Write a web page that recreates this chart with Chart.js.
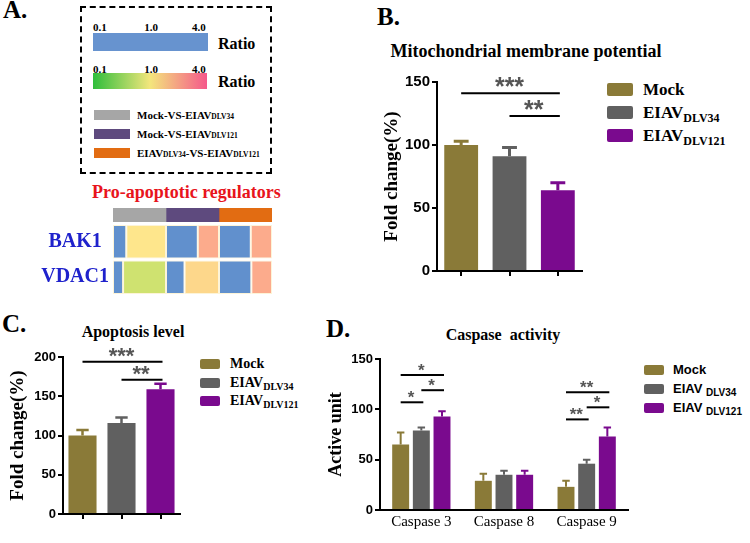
<!DOCTYPE html>
<html>
<head>
<meta charset="utf-8">
<script src="https://cdn.jsdelivr.net/npm/chart.js@4.4.1/dist/chart.umd.min.js"></script>
<style>
body { margin: 0; background: #fff; }
#fig { position: relative; width: 750px; height: 543px; overflow: hidden;
       font-family: "Liberation Serif", "Times New Roman", serif; font-weight: bold; color: #000; }
.t { position: absolute; white-space: nowrap; line-height: 1; }
.c { transform: translateX(-50%); }
canvas { position: absolute; }
.leg { position: absolute; }
.leg .row { display: flex; align-items: center; white-space: nowrap; line-height: 1; }
.leg .sw { display: inline-block; border-radius: 2px; flex: none; }
.leg .sub { position: relative; }
</style>
</head>
<body>
<div id="fig">
  <div class="t" style="left:3px;top:-3px;font-size:25px">A.</div>
  <div class="t" style="left:377px;top:4px;font-size:25px">B.</div>
  <div class="t" style="left:2px;top:311px;font-size:25px">C.</div>
  <div class="t" style="left:326px;top:316px;font-size:25px">D.</div>

  <!-- panel A key -->
  <div style="position:absolute;left:80px;top:6px;width:192px;height:168px;border:2px dashed #000;box-sizing:border-box"></div>
  <div class="t" style="left:93px;top:22px;font-size:11px">0.1</div>
  <div class="t c" style="left:151px;top:22px;font-size:11px">1.0</div>
  <div class="t" style="left:192px;top:22px;font-size:11px">4.0</div>
  <div style="position:absolute;left:93px;top:33px;width:115px;height:18px;background:#6793cf"></div>
  <div class="t" style="left:218px;top:36px;font-size:16px">Ratio</div>
  <div class="t" style="left:93px;top:64px;font-size:11px">0.1</div>
  <div class="t c" style="left:151px;top:64px;font-size:11px">1.0</div>
  <div class="t" style="left:192px;top:64px;font-size:11px">4.0</div>
  <div style="position:absolute;left:93px;top:73px;width:114px;height:16px;background:linear-gradient(to right,#2fbe3c,#f3e67c 50%,#f5588b)"></div>
  <div class="t" style="left:218px;top:74px;font-size:16px">Ratio</div>
  <div id="legA" class="leg" style="left:94px;top:105px"></div>

  <div class="t" style="left:92px;top:183px;font-size:18px;color:#e8141c">Pro-apoptotic regulators</div>
  <canvas id="heatHead" width="159" height="14" style="left:113px;top:208px"></canvas>
  <canvas id="heatRows" width="234" height="71" style="left:38px;top:224px"></canvas>

  <!-- panel B -->
  <div class="t c" style="left:526px;top:42px;font-size:18px">Mitochondrial membrane potential</div>
  <canvas id="chartB" width="212" height="230" style="left:375px;top:60px"></canvas>
  <div id="legB" class="leg" style="left:607px;top:78px"></div>

  <!-- panel C -->
  <div class="t c" style="left:133px;top:324px;font-size:16px">Apoptosis level</div>
  <canvas id="chartC" width="185" height="185" style="left:0px;top:340px"></canvas>
  <div id="legC" class="leg" style="left:200px;top:355px"></div>

  <!-- panel D -->
  <div class="t c" style="left:503px;top:327px;font-size:16px">Caspase&nbsp; activity</div>
  <canvas id="chartD" width="313" height="195" style="left:320px;top:345px"></canvas>
  <div id="legD" class="leg" style="left:644px;top:360px"></div>
</div>

<script>
// groups and colours
const groupMain = ["Mock", "EIAV", "EIAV"];
const groupSub = ["", "DLV34", "DLV121"];
const groupColors = ["#8a7a38", "#606060", "#7a0a8e"];

// B: mitochondrial membrane potential
const mmpValues = [100, 91, 64];
const mmpErrors = [3, 7, 6];
const mmpTicks = [0, 50, 100, 150];
const mmpSig = [
    { from: 0, to: 2, y: 141, text: "***" },
    { from: 1, to: 2, y: 123, text: "**" }
];

// C: apoptosis level
const apoValues = [100, 116, 159];
const apoErrors = [7, 7, 7];
const apoTicks = [0, 50, 100, 150, 200];
const apoSig = [
    { from: 0, to: 2, y: 194, text: "***" },
    { from: 1, to: 2, y: 171, text: "**" }
];

// D: caspase activity
const caspases = ["Caspase 3", "Caspase 8", "Caspase 9"];
const caspMock = [65, 29, 23];
const caspMockErr = [12, 7, 6];
const caspDLV34 = [79, 35, 46];
const caspDLV34Err = [3, 4, 4];
const caspDLV121 = [93, 35, 73];
const caspDLV121Err = [5, 4, 9];
const caspTicks = [0, 50, 100, 150];
const caspSig = [
    { cat: 0, from: 0, to: 2, y: 134, text: "*" },
    { cat: 0, from: 0, to: 1, y: 107, text: "*" },
    { cat: 0, from: 1, to: 2, y: 119, text: "*" },
    { cat: 2, from: 0, to: 2, y: 117, text: "**" },
    { cat: 2, from: 0, to: 1, y: 90, text: "**" },
    { cat: 2, from: 1, to: 2, y: 102, text: "*" }
];

// A: heatmap of pro-apoptotic regulators
const genes = ["BAK1", "VDAC1"];
const comparisons = ["Mock-VS-EIAV|DLV34", "Mock-VS-EIAV|DLV121", "EIAV|DLV34|-VS-EIAV|DLV121"];
const compColors = ["#a6a6a6", "#5e4a7e", "#e26c12"];
const heatBlue = [[0.25, 0.60, 0.60], [0.19, 0.35, 0.61]];
const heatRest = [[0.75, 0.40, 0.40], [0.81, 0.65, 0.39]];
const heatRestColors = [["#fee68c", "#fcab8c", "#fcab8c"], ["#cfe270", "#fdd78b", "#fcab8c"]];

const serif = "'Liberation Serif', 'Times New Roman', serif";
const sans = "'Liberation Sans', Arial, sans-serif";

function legend(id, pitch, sw, gap, font, subSize, subDrop, spacer) {
    const box = document.getElementById(id);
    groupMain.forEach((name, i) => {
        const row = document.createElement("div");
        row.className = "row";
        row.style.height = pitch + "px";
        row.style.font = font;
        let label = name;
        if (groupSub[i]) label += `${spacer}<span class="sub" style="font-size:${subSize}px;top:${subDrop}px">${groupSub[i]}</span>`;
        row.innerHTML = `<span class="sw" style="width:${sw[0]}px;height:${sw[1]}px;margin-right:${gap}px;background:${groupColors[i]}"></span><span>${label}</span>`;
        box.appendChild(row);
    });
}

function legendA() {
    const box = document.getElementById("legA");
    comparisons.forEach((name, i) => {
        const row = document.createElement("div");
        row.className = "row";
        row.style.height = "19px";
        row.style.font = "bold 11px " + serif;
        const parts = name.split("|").map((p, k) => k % 2 ? `<span style="font-size:7.5px">${p}</span>` : p);
        row.innerHTML = `<span class="sw" style="width:36px;height:10px;margin-right:7px;border-radius:0;background:${compColors[i]}"></span><span>${parts.join("")}</span>`;
        box.appendChild(row);
    });
}

const errorBars = {
    id: "errorBars",
    afterDatasetsDraw(chart) {
        const ctx = chart.ctx, y = chart.scales.y;
        ctx.save();
        chart.data.datasets.forEach((ds, di) => {
            chart.getDatasetMeta(di).data.forEach((bar, i) => {
                const top = y.getPixelForValue(ds.data[i] + ds.errors[i]);
                const hw = bar.width * 0.22;
                ctx.strokeStyle = Array.isArray(ds.backgroundColor) ? ds.backgroundColor[i] : ds.backgroundColor;
                ctx.lineWidth = ds.errWidth;
                ctx.beginPath();
                ctx.moveTo(bar.x, bar.y);
                ctx.lineTo(bar.x, top);
                ctx.moveTo(bar.x - hw, top);
                ctx.lineTo(bar.x + hw, top);
                ctx.stroke();
            });
        });
        ctx.restore();
    }
};

function sigPlugin(items, font, lift) {
    return {
        id: "sig",
        afterDatasetsDraw(chart) {
            const ctx = chart.ctx, y = chart.scales.y;
            const single = chart.data.datasets.length === 1;
            const xOf = (s, c) => single ? chart.getDatasetMeta(0).data[s].x : chart.getDatasetMeta(s).data[c].x;
            ctx.save();
            items.forEach(b => {
                const x1 = xOf(b.from, b.cat), x2 = xOf(b.to, b.cat);
                const py = y.getPixelForValue(b.y);
                ctx.strokeStyle = "#000";
                ctx.lineWidth = 2;
                ctx.beginPath();
                ctx.moveTo(x1, py);
                ctx.lineTo(x2 + 2, py);
                ctx.stroke();
                ctx.fillStyle = "#555";
                ctx.font = font;
                ctx.textAlign = "center";
                ctx.textBaseline = "alphabetic";
                ctx.fillText(b.text, (x1 + x2) / 2, py + lift);
            });
            ctx.restore();
        }
    };
}

function barChart(id, labels, datasets, cfg) {
    return new Chart(document.getElementById(id), {
        type: "bar",
        data: { labels: labels, datasets: datasets },
        options: {
            responsive: false,
            animation: false,
            layout: { padding: cfg.pad },
            plugins: { legend: { display: false }, tooltip: { enabled: false } },
            scales: {
                x: {
                    grid: { offset: false, drawOnChartArea: false, drawTicks: cfg.xTicks, tickLength: 5, color: "#000", lineWidth: 2 },
                    border: { color: "#000", width: 2 },
                    ticks: { display: cfg.xLabels, font: { family: serif, size: 15 }, color: "#000", padding: 3 },
                    afterFit: s => { s.height = cfg.xH; }
                },
                y: {
                    min: 0,
                    max: cfg.ticks[cfg.ticks.length - 1],
                    afterBuildTicks: s => { s.ticks = cfg.ticks.map(v => ({ value: v })); },
                    grid: { drawOnChartArea: false, tickLength: 5, color: "#000", lineWidth: 2 },
                    border: { color: "#000", width: 2 },
                    ticks: { font: { family: sans, weight: "bold", size: cfg.tickSize }, color: "#000", padding: 2 },
                    title: {
                        display: true, text: cfg.yTitle, color: "#000",
                        font: { family: serif, weight: "bold", size: cfg.titleSize },
                        padding: { top: cfg.titlePad, bottom: 0 }
                    },
                    afterFit: s => { s.width = cfg.yW; }
                }
            }
        },
        plugins: [errorBars, sigPlugin(cfg.sig, cfg.sigFont, cfg.lift)]
    });
}

// panel B
barChart("chartB", groupMain, [{
    data: mmpValues, errors: mmpErrors, errWidth: 3,
    backgroundColor: groupColors, barPercentage: 0.7, categoryPercentage: 1
}], {
    pad: { top: 22, right: 5, left: 0, bottom: 0 }, xH: 19, yW: 62, xTicks: true, xLabels: false,
    ticks: mmpTicks, tickSize: 15, yTitle: "Fold change(%)", titleSize: 19, titlePad: 6,
    sig: mmpSig, sigFont: "bold 25px " + sans, lift: 2
});

// panel C
barChart("chartC", groupMain, [{
    data: apoValues, errors: apoErrors, errWidth: 2.5,
    backgroundColor: groupColors, barPercentage: 0.72, categoryPercentage: 1
}], {
    pad: { top: 17, right: 5, left: 0, bottom: 0 }, xH: 11, yW: 63, xTicks: true, xLabels: false,
    ticks: apoTicks, tickSize: 13, yTitle: "Fold change(%)", titleSize: 19, titlePad: 7,
    sig: apoSig, sigFont: "bold 22px " + sans, lift: 1
});

// panel D
const caspSeries = [[caspMock, caspMockErr], [caspDLV34, caspDLV34Err], [caspDLV121, caspDLV121Err]];
barChart("chartD", caspases, caspSeries.map((s, i) => ({
    data: s[0], errors: s[1], errWidth: 2,
    backgroundColor: groupColors[i], barPercentage: 0.82, categoryPercentage: 0.75
})), {
    pad: { top: 14, right: 5, left: 0, bottom: 0 }, xH: 30, yW: 60, xTicks: false, xLabels: true,
    ticks: caspTicks, tickSize: 13, yTitle: "Active unit", titleSize: 18, titlePad: 6,
    sig: caspSig, sigFont: "bold 17px " + sans, lift: 1
});

// panel A heatmap: header strip
new Chart(document.getElementById("heatHead"), {
    type: "bar",
    data: {
        labels: ["comparison"],
        datasets: compColors.map(c => ({ data: [1], backgroundColor: c, barPercentage: 1, categoryPercentage: 1 }))
    },
    options: {
        indexAxis: "y", responsive: false, animation: false,
        plugins: { legend: { display: false }, tooltip: { enabled: false } },
        scales: {
            x: { stacked: true, min: 0, max: comparisons.length, display: false },
            y: { stacked: true, display: false }
        }
    }
});

// panel A heatmap: gene rows
const heatSets = [];
comparisons.forEach((c, ci) => {
    heatSets.push({ data: genes.map((g, gi) => heatBlue[gi][ci]), backgroundColor: "#6190cd" });
    heatSets.push({ data: genes.map((g, gi) => heatRest[gi][ci]), backgroundColor: genes.map((g, gi) => heatRestColors[gi][ci]) });
});
new Chart(document.getElementById("heatRows"), {
    type: "bar",
    data: {
        labels: genes,
        datasets: heatSets.map(d => Object.assign(d, {
            barPercentage: 0.94, categoryPercentage: 1, borderWidth: 1, borderColor: "#fdf4d8", borderSkipped: false
        }))
    },
    options: {
        indexAxis: "y", responsive: false, animation: false,
        plugins: { legend: { display: false }, tooltip: { enabled: false } },
        scales: {
            x: { stacked: true, min: 0, max: comparisons.length, display: false },
            y: {
                stacked: true,
                grid: { display: false, drawTicks: false },
                border: { display: false },
                ticks: { crossAlign: "center", padding: 4, color: "#1f22cc", font: { family: serif, weight: "bold", size: 20 } },
                afterFit: s => { s.width = 75; s.paddingTop = 0; s.paddingBottom = 0; }
            }
        }
    }
});

legendA();
legend("legB", 23, [26, 13], 10, "bold 17px " + serif, 12, 4, "");
legend("legC", 18.5, [20, 10], 10, "bold 14px " + serif, 10, 3, "");
legend("legD", 19, [20, 10], 9, "bold 13px " + sans, 10, 3, " ");
</script>
</body>
</html>
